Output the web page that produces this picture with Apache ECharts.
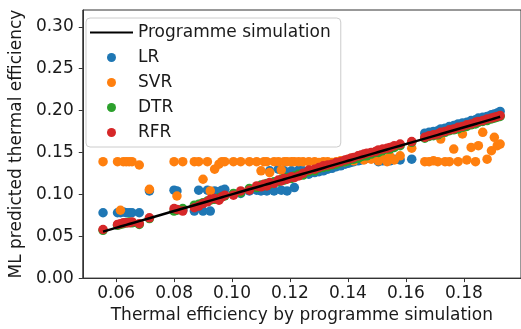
<!DOCTYPE html>
<html>
<head>
<meta charset="utf-8">
<script src="https://cdn.jsdelivr.net/npm/echarts@6/dist/echarts.min.js"></script>
<style>
  html, body { margin: 0; padding: 0; background: #fff; }
  #chart { width: 521px; height: 329px; }
</style>
</head>
<body>
<div id="chart"></div>
<script>
// Thermal efficiency from the programme simulation (x)
const effSim = [
  0.0555, 0.0605, 0.0615, 0.0625, 0.0635, 0.0645, 0.0655, 0.0680,
  0.0715, 0.0800, 0.0810, 0.0830, 0.0870, 0.0885, 0.0900, 0.0915, 0.0925, 0.0940, 0.0955, 0.0965, 0.0975,
  0.1005, 0.1030, 0.1060, 0.1085, 0.1100, 0.1110, 0.1120, 0.1130, 0.1145, 0.1160, 0.1170, 0.1180, 0.1190, 0.1205, 0.1215, 0.1230, 0.1245,
  0.1265, 0.1285, 0.1300, 0.1315, 0.1330, 0.1345, 0.1360, 0.1375, 0.1390, 0.1400, 0.1410, 0.1420, 0.1435, 0.1445, 0.1455, 0.1465, 0.1480, 0.1495, 0.1505, 0.1520, 0.1535, 0.1545, 0.1560, 0.1580, 0.1620,
  0.1665, 0.1680, 0.1695, 0.1710, 0.1720, 0.1735, 0.1750, 0.1765, 0.1780, 0.1795, 0.1810, 0.1825, 0.1840, 0.1850, 0.1865, 0.1880, 0.1895, 0.1905, 0.1915, 0.1925
];

// ML predictions, one per simulated case
const predLR = [
  0.078, 0.078, 0.078, 0.079, 0.078, 0.078, 0.078, 0.078,
  0.104, 0.105, 0.104, 0.081, 0.080, 0.105, 0.080, 0.105, 0.080, 0.104, 0.103, 0.105, 0.106,
  0.100, 0.101, 0.104, 0.105, 0.104, 0.106, 0.104, 0.128, 0.104, 0.130, 0.105, 0.128, 0.104, 0.128, 0.108, 0.129, 0.128,
  0.124, 0.126, 0.127, 0.128, 0.130, 0.131, 0.133, 0.134, 0.136, 0.137, 0.138, 0.139, 0.140, 0.141, 0.142, 0.143, 0.145, 0.146, 0.139, 0.140, 0.141, 0.140, 0.142, 0.141, 0.142,
  0.173, 0.174, 0.175, 0.176, 0.178, 0.179, 0.181, 0.182, 0.184, 0.185, 0.186, 0.188, 0.189, 0.191, 0.192, 0.193, 0.195, 0.196, 0.197, 0.199
];
const predSVR = [
  0.139, 0.139, 0.081, 0.139, 0.139, 0.139, 0.139, 0.135,
  0.106, 0.139, 0.098, 0.139, 0.139, 0.139, 0.118, 0.139, 0.104, 0.130, 0.136, 0.139, 0.139,
  0.139, 0.139, 0.139, 0.139, 0.128, 0.139, 0.139, 0.126, 0.139, 0.139, 0.129, 0.139, 0.139, 0.139, 0.139, 0.139, 0.139,
  0.139, 0.139, 0.138, 0.139, 0.139, 0.138, 0.139, 0.140, 0.139, 0.141, 0.143, 0.140, 0.144, 0.146, 0.141, 0.147, 0.142, 0.148, 0.140, 0.143, 0.139, 0.145, 0.141, 0.146, 0.155,
  0.139, 0.139, 0.140, 0.139, 0.166, 0.139, 0.139, 0.154, 0.139, 0.172, 0.141, 0.156, 0.139, 0.158, 0.174, 0.142, 0.152, 0.168, 0.158, 0.160
];
const predDTR = [
  0.057, 0.063, 0.064, 0.065, 0.066, 0.067, 0.066, 0.064,
  0.071, 0.080, 0.081, 0.083, 0.087, 0.088, 0.090, 0.092, 0.093, 0.094, 0.096, 0.097, 0.098,
  0.101, 0.102, 0.107, 0.108, 0.111, 0.110, 0.113, 0.112, 0.115, 0.115, 0.118, 0.117, 0.120, 0.119, 0.122, 0.124, 0.123,
  0.127, 0.128, 0.131, 0.132, 0.133, 0.135, 0.136, 0.138, 0.139, 0.140, 0.142, 0.142, 0.143, 0.145, 0.146, 0.146, 0.148, 0.150, 0.150, 0.152, 0.154, 0.154, 0.156, 0.158, 0.162,
  0.167, 0.169, 0.170, 0.171, 0.173, 0.174, 0.176, 0.177, 0.178, 0.180, 0.181, 0.183, 0.184, 0.186, 0.187, 0.188, 0.190, 0.191, 0.192, 0.193
];
const predRFR = [
  0.058, 0.064, 0.065, 0.066, 0.066, 0.066, 0.067, 0.065,
  0.072, 0.083, 0.082, 0.080, 0.084, 0.086, 0.089, 0.091, 0.094, 0.095, 0.093, 0.097, 0.099,
  0.099, 0.104, 0.105, 0.110, 0.109, 0.112, 0.110, 0.114, 0.113, 0.117, 0.116, 0.119, 0.118, 0.121, 0.120, 0.122, 0.125,
  0.129, 0.130, 0.132, 0.134, 0.135, 0.136, 0.138, 0.139, 0.141, 0.142, 0.143, 0.144, 0.146, 0.147, 0.148, 0.149, 0.150, 0.151, 0.153, 0.154, 0.155, 0.156, 0.158, 0.160, 0.163,
  0.168, 0.170, 0.171, 0.172, 0.174, 0.175, 0.177, 0.178, 0.180, 0.181, 0.183, 0.184, 0.186, 0.187, 0.188, 0.190, 0.191, 0.192, 0.193, 0.194
];

// Tick labels
const xTicks = [0.06, 0.08, 0.10, 0.12, 0.14, 0.16, 0.18];
const yTicks = [0.00, 0.05, 0.10, 0.15, 0.20, 0.25, 0.30];

const FONT = 'DejaVu Sans';
const FS = 17;
const TEXT = '#1a1a1a';

const pairs = (ys) => effSim.map((x, i) => [x, ys[i]]);

const scatter = (name, color, ys) => ({
  name, type: 'scatter', data: pairs(ys),
  symbol: 'circle', symbolSize: 9.5,
  itemStyle: { color, opacity: 1 },
  z: 2, silent: true
});

const chart = echarts.init(document.getElementById('chart'), null, { renderer: 'canvas' });
chart.setOption({
  animation: false,
  backgroundColor: '#fff',
  textStyle: { fontFamily: FONT },
  grid: {
    left: 77, top: 10, width: 446, height: 270,
    show: true, borderColor: '#333', borderWidth: 1, backgroundColor: 'transparent'
  },
  xAxis: {
    type: 'value', min: 0.0485, max: 0.1997,
    name: 'Thermal efficiency by programme simulation',
    nameLocation: 'middle', nameGap: 28,
    nameTextStyle: { fontFamily: FONT, fontSize: FS, color: TEXT },
    axisLine: { show: true, lineStyle: { color: '#333', width: 1 } },
    axisTick: { show: true, length: 4, lineStyle: { color: '#333' }, customValues: xTicks },
    axisLabel: {
      fontFamily: FONT, fontSize: FS, color: TEXT, margin: 7,
      customValues: xTicks, formatter: v => v.toFixed(2)
    },
    splitLine: { show: false }
  },
  yAxis: {
    type: 'value', min: 0, max: 0.32,
    name: 'ML predicted thermal efficiency',
    nameLocation: 'middle', nameGap: 46,
    nameTextStyle: { fontFamily: FONT, fontSize: FS, color: TEXT },
    axisLine: { show: true, lineStyle: { color: '#333', width: 1 } },
    axisTick: { show: true, length: 4, lineStyle: { color: '#333' }, customValues: yTicks },
    axisLabel: {
      fontFamily: FONT, fontSize: FS, color: TEXT, margin: 9,
      customValues: yTicks, formatter: v => v.toFixed(2)
    },
    splitLine: { show: false }
  },
  legend: {
    orient: 'vertical', left: 86, top: 18,
    padding: [6, 10, 6, 3],
    itemWidth: 43, itemHeight: 9, itemGap: 8,
    backgroundColor: 'rgba(255,255,255,0.85)',
    borderColor: '#cccccc', borderWidth: 1, borderRadius: 4,
    textStyle: { fontFamily: FONT, fontSize: FS, color: TEXT, lineHeight: 17 },
    data: [
      { name: 'Programme simulation', itemStyle: { opacity: 0, borderWidth: 0 } },
      'LR', 'SVR', 'DTR', 'RFR'
    ]
  },
  series: [
    {
      name: 'Programme simulation', type: 'line',
      data: effSim.map(x => [x, x]),
      symbol: 'none', showSymbol: false,
      lineStyle: { color: '#000', width: 2.5 },
      itemStyle: { color: '#000' },
      z: 5, silent: true
    },
    scatter('LR', '#1f77b4', predLR),
    scatter('SVR', '#ff7f0e', predSVR),
    scatter('DTR', '#2ca02c', predDTR),
    scatter('RFR', '#d62728', predRFR)
  ]
});
</script>
</body>
</html>
